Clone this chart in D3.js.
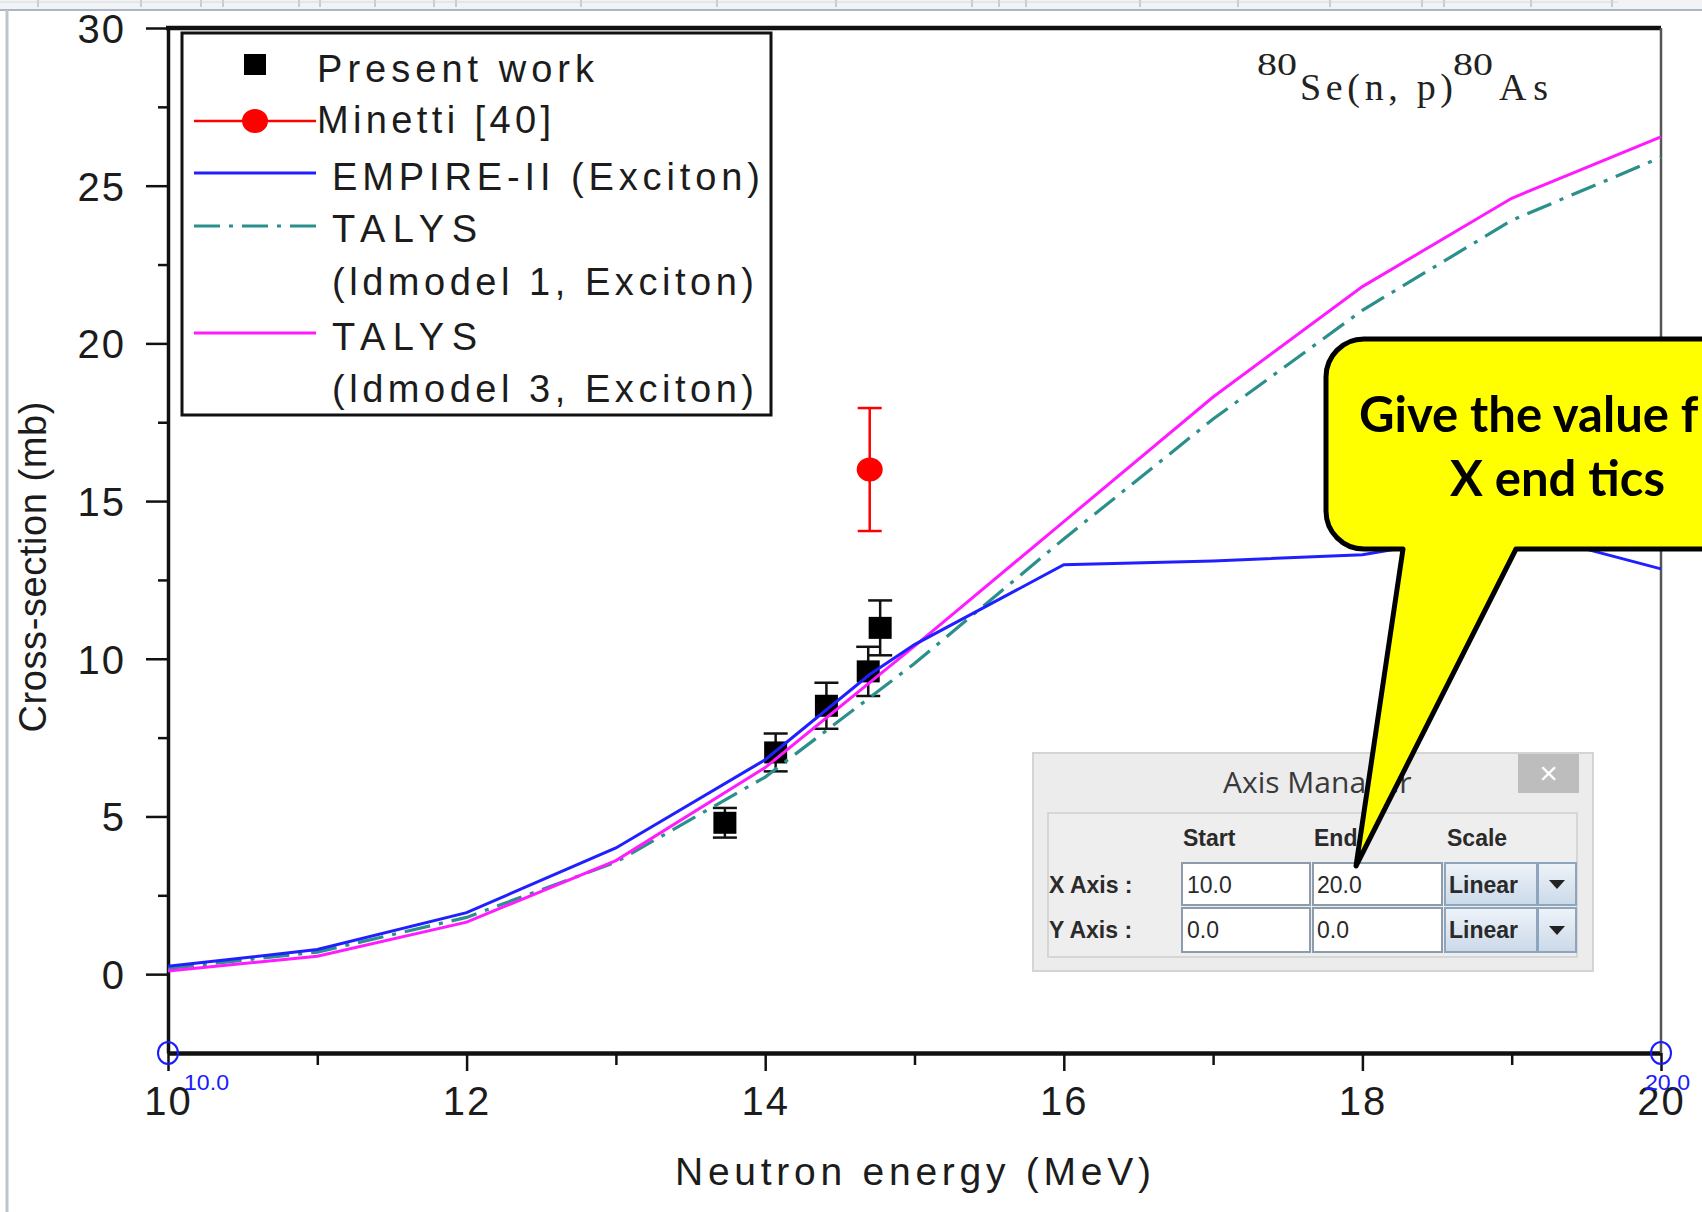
<!DOCTYPE html>
<html><head><meta charset="utf-8">
<script src="https://cdn.jsdelivr.net/npm/d3@7"></script>
<style>
html,body{margin:0;padding:0;background:#fff;}
svg{display:block;}
</style></head>
<body>
<script>
// ---------------- data ----------------
const xMajorTicks = [10, 12, 14, 16, 18, 20];
const xMinorTicks = [11, 13, 15, 17, 19];
const yMajorTicks = [0, 5, 10, 15, 20, 25, 30];
const yMinorTicks = [2.5, 7.5, 12.5, 17.5, 22.5, 27.5];

const talysEnergy = [10, 11, 12, 13, 14, 15, 16, 17, 18, 19, 20];
const talysLd1 = [0.18, 0.7, 1.8, 3.55, 6.25, 9.85, 13.8, 17.6, 21.05, 23.9, 25.9];
const talysLd3 = [0.1, 0.57, 1.65, 3.6, 6.55, 10.4, 14.35, 18.3, 21.8, 24.6, 26.55];

const empireEnergy = [10, 11, 12, 13, 14, 14.7, 15, 16, 17, 18, 19, 20];
const empireXS = [0.25, 0.78, 1.95, 4.0, 6.8, 9.5, 10.45, 12.98, 13.1, 13.3, 14.1, 12.85];

const presentEnergy = [13.73, 14.07, 14.41, 14.69, 14.77];
const presentXS = [4.8, 7.03, 8.51, 9.6, 10.98];
const presentErr = [0.47, 0.6, 0.73, 0.78, 0.87];

const minettiEnergy = [14.7];
const minettiXS = [16.0];
const minettiErr = [1.95];

const legendLabels = ["Present work", "Minetti [40]", "EMPIRE-II (Exciton)", "TALYS", "(ldmodel 1, Exciton)", "TALYS", "(ldmodel 3, Exciton)"];
const xAxisTitle = "Neutron energy (MeV)";
const yAxisTitle = "Cross-section (mb)";
const xEndLabels = ["10.0", "20.0"];
const calloutLines = ["Give the value f", "X end tics"];

// ---------------- setup ----------------
const W = 1702, H = 1212;
const svg = d3.select("body").append("svg").attr("width", W).attr("height", H)
  .style("font-family", "'Liberation Sans', Arial, sans-serif");

const x = d3.scaleLinear().domain([10, 20]).range([168, 1661]);
const y = d3.scaleLinear().domain([-2.5, 30]).range([1053, 28]);

// window chrome
svg.append("rect").attr("x", 0).attr("y", 0).attr("width", W).attr("height", 9).attr("fill", "#f2f3f5");
const seps = [38, 141, 201, 223, 299, 320, 375, 434, 456, 581, 717, 836, 972, 999, 1026, 1140, 1238, 1330, 1422, 1444, 1531, 1612];
svg.append("g").selectAll("line").data(seps).join("line")
  .attr("x1", d => d).attr("x2", d => d).attr("y1", 0).attr("y2", 7)
  .attr("stroke", "#b9bec6").attr("stroke-width", 1.5);
svg.append("line").attr("x1", 0).attr("x2", 1618).attr("y1", 2).attr("y2", 2).attr("stroke", "#d4d8de").attr("stroke-width", 1);
svg.append("line").attr("x1", 0).attr("x2", W).attr("y1", 10).attr("y2", 10).attr("stroke", "#aab6c4").attr("stroke-width", 2);
svg.append("line").attr("x1", 7).attr("x2", 7).attr("y1", 10).attr("y2", H).attr("stroke", "#bfc5cd").attr("stroke-width", 3);

// ---------------- axes ----------------
const gx = svg.append("g").attr("transform", `translate(0,${y(-2.5)})`)
  .call(d3.axisBottom(x).tickValues(xMajorTicks).tickSize(18).tickSizeOuter(0).tickFormat(d3.format("d")));
gx.select(".domain").attr("stroke", "#111").attr("stroke-width", 4.5);
gx.selectAll(".tick line").attr("stroke", "#111").attr("stroke-width", 2.5);
gx.selectAll(".tick text").attr("y", 62).attr("dy", null).attr("fill", "#1c1c1c")
  .style("font-size", "40px").style("font-family", "'Liberation Sans', Arial, sans-serif").style("letter-spacing", "2px");

const gxm = svg.append("g").attr("transform", `translate(0,${y(-2.5)})`)
  .call(d3.axisBottom(x).tickValues(xMinorTicks).tickSize(12).tickFormat(""));
gxm.select(".domain").remove();
gxm.selectAll(".tick line").attr("stroke", "#111").attr("stroke-width", 2.5);

const gy = svg.append("g").attr("transform", `translate(${x(10)},0)`)
  .call(d3.axisLeft(y).tickValues(yMajorTicks).tickSize(22).tickSizeOuter(0).tickFormat(d3.format("d")));
gy.select(".domain").attr("stroke", "#111").attr("stroke-width", 3.5);
gy.selectAll(".tick line").attr("stroke", "#111").attr("stroke-width", 2.5);
gy.selectAll(".tick text").attr("x", -42).attr("dy", "0.36em").attr("fill", "#1c1c1c")
  .style("font-size", "40px").style("font-family", "'Liberation Sans', Arial, sans-serif").style("letter-spacing", "2px");

const gym = svg.append("g").attr("transform", `translate(${x(10)},0)`)
  .call(d3.axisLeft(y).tickValues(yMinorTicks).tickSize(10).tickFormat(""));
gym.select(".domain").remove();
gym.selectAll(".tick line").attr("stroke", "#111").attr("stroke-width", 2.5);

// top & right frame
svg.append("line").attr("x1", x(10) - 2).attr("x2", x(20)).attr("y1", y(30)).attr("y2", y(30))
  .attr("stroke", "#111").attr("stroke-width", 4.5);
svg.append("line").attr("x1", x(20)).attr("x2", x(20)).attr("y1", y(30)).attr("y2", y(-2.5))
  .attr("stroke", "#555").attr("stroke-width", 2.5);

// axis titles
svg.append("text").attr("x", 675).attr("y", 1185).attr("textLength", 476).attr("lengthAdjust", "spacing")
  .attr("fill", "#1c1c1c").style("font-size", "39px").text(xAxisTitle);
svg.append("text").attr("transform", "translate(46,567) rotate(-90)").attr("text-anchor", "middle")
  .attr("textLength", 331).attr("lengthAdjust", "spacing")
  .attr("fill", "#1c1c1c").style("font-size", "38px").text(yAxisTitle);

// ---------------- data marks ----------------
const pw = presentEnergy.map((e, i) => ({ e, v: presentXS[i], err: presentErr[i] }));
const gpw = svg.append("g");
gpw.selectAll("line.v").data(pw).join("line").attr("class", "v")
  .attr("x1", d => x(d.e)).attr("x2", d => x(d.e))
  .attr("y1", d => y(d.v + d.err)).attr("y2", d => y(d.v - d.err))
  .attr("stroke", "#111").attr("stroke-width", 2.5);
gpw.selectAll("line.t").data(pw).join("line").attr("class", "t")
  .attr("x1", d => x(d.e) - 12).attr("x2", d => x(d.e) + 12)
  .attr("y1", d => y(d.v + d.err)).attr("y2", d => y(d.v + d.err))
  .attr("stroke", "#111").attr("stroke-width", 2.5);
gpw.selectAll("line.b").data(pw).join("line").attr("class", "b")
  .attr("x1", d => x(d.e) - 12).attr("x2", d => x(d.e) + 12)
  .attr("y1", d => y(d.v - d.err)).attr("y2", d => y(d.v - d.err))
  .attr("stroke", "#111").attr("stroke-width", 2.5);
gpw.selectAll("rect").data(pw).join("rect")
  .attr("x", d => x(d.e) - 11.5).attr("y", d => y(d.v) - 11)
  .attr("width", 23).attr("height", 22).attr("fill", "#000");

// curves
const lineGen = (xs, ys) => d3.line().x((d, i) => x(xs[i])).y((d, i) => y(ys[i]))(xs);
svg.append("path").attr("d", lineGen(talysEnergy, talysLd1)).attr("fill", "none")
  .attr("stroke", "#2b8f8c").attr("stroke-width", 3.2).attr("stroke-dasharray", "26,9,4,9");
svg.append("path").attr("d", lineGen(talysEnergy, talysLd3)).attr("fill", "none")
  .attr("stroke", "#ff1aff").attr("stroke-width", 3);
svg.append("path").attr("d", lineGen(empireEnergy, empireXS)).attr("fill", "none")
  .attr("stroke", "#2020ff").attr("stroke-width", 3);

// Minetti
const mn = minettiEnergy.map((e, i) => ({ e, v: minettiXS[i], err: minettiErr[i] }));
const gmn = svg.append("g");
gmn.selectAll("line.v").data(mn).join("line").attr("class", "v")
  .attr("x1", d => x(d.e)).attr("x2", d => x(d.e))
  .attr("y1", d => y(d.v + d.err)).attr("y2", d => y(d.v - d.err))
  .attr("stroke", "#ff0000").attr("stroke-width", 2.5);
gmn.selectAll("line.t").data(mn).join("line").attr("class", "t")
  .attr("x1", d => x(d.e) - 12).attr("x2", d => x(d.e) + 12)
  .attr("y1", d => y(d.v + d.err)).attr("y2", d => y(d.v + d.err))
  .attr("stroke", "#ff0000").attr("stroke-width", 2.5);
gmn.selectAll("line.b").data(mn).join("line").attr("class", "b")
  .attr("x1", d => x(d.e) - 12).attr("x2", d => x(d.e) + 12)
  .attr("y1", d => y(d.v - d.err)).attr("y2", d => y(d.v - d.err))
  .attr("stroke", "#ff0000").attr("stroke-width", 2.5);
gmn.selectAll("ellipse").data(mn).join("ellipse")
  .attr("cx", d => x(d.e)).attr("cy", d => y(d.v)).attr("rx", 13).attr("ry", 12).attr("fill", "#ff0000");

// reaction annotation
const ann = svg.append("g").attr("fill", "#222").style("font-family", "'Liberation Serif', 'Times New Roman', serif");
ann.append("text").attr("x", 1257).attr("y", 75).attr("textLength", 40).attr("lengthAdjust", "spacingAndGlyphs").style("font-size", "31px").text("80");
ann.append("text").attr("x", 1300).attr("y", 100).attr("textLength", 153).attr("lengthAdjust", "spacing").style("font-size", "38px").text("Se(n, p)");
ann.append("text").attr("x", 1453).attr("y", 75).attr("textLength", 40).attr("lengthAdjust", "spacingAndGlyphs").style("font-size", "31px").text("80");
ann.append("text").attr("x", 1499).attr("y", 100).attr("textLength", 49).attr("lengthAdjust", "spacing").style("font-size", "38px").text("As");

// ---------------- legend ----------------
const lg = svg.append("g");
lg.append("rect").attr("x", 182).attr("y", 33).attr("width", 589).attr("height", 382)
  .attr("fill", "#fff").attr("stroke", "#111").attr("stroke-width", 3);
lg.append("rect").attr("x", 244).attr("y", 54).attr("width", 22).attr("height", 21).attr("fill", "#000");
lg.append("line").attr("x1", 194).attr("x2", 316).attr("y1", 121).attr("y2", 121).attr("stroke", "#ff0000").attr("stroke-width", 2.5);
lg.append("ellipse").attr("cx", 255).attr("cy", 121).attr("rx", 13).attr("ry", 12).attr("fill", "#ff0000");
lg.append("line").attr("x1", 194).attr("x2", 316).attr("y1", 173).attr("y2", 173).attr("stroke", "#2020ff").attr("stroke-width", 3);
lg.append("line").attr("x1", 194).attr("x2", 316).attr("y1", 226).attr("y2", 226).attr("stroke", "#2b8f8c").attr("stroke-width", 3.2).attr("stroke-dasharray", "26,9,4,9");
lg.append("line").attr("x1", 194).attr("x2", 316).attr("y1", 333).attr("y2", 333).attr("stroke", "#ff1aff").attr("stroke-width", 3);
const legendPos = [
  { x: 317, y: 82, w: 277 }, { x: 317, y: 133, w: 234 }, { x: 332, y: 190, w: 428 },
  { x: 332, y: 242, w: 145 }, { x: 332, y: 295, w: 422 }, { x: 332, y: 350, w: 145 }, { x: 332, y: 402, w: 422 }
];
lg.selectAll("text").data(legendLabels).join("text")
  .attr("x", (d, i) => legendPos[i].x).attr("y", (d, i) => legendPos[i].y)
  .attr("textLength", (d, i) => legendPos[i].w).attr("lengthAdjust", "spacing")
  .attr("fill", "#1c1c1c").style("font-size", "38px").text(d => d);

// blue axis end markers
const ends = [10, 20];
const gm = svg.append("g");
gm.selectAll("ellipse").data(ends).join("ellipse")
  .attr("cx", d => x(d)).attr("cy", y(-2.5)).attr("rx", 10).attr("ry", 11)
  .attr("fill", "none").attr("stroke", "#1a1aff").attr("stroke-width", 2);
gm.selectAll("text").data(ends).join("text")
  .attr("x", (d, i) => i === 0 ? x(d) + 16 : x(d) - 16).attr("y", 1090)
  .attr("textLength", 45).attr("lengthAdjust", "spacingAndGlyphs")
  .attr("fill", "#1a1aff").style("font-size", "22px").text((d, i) => xEndLabels[i]);

// ---------------- Axis Manager dialog ----------------
const dlg = svg.append("g").style("font-family", "'Liberation Sans', Arial, sans-serif");
dlg.append("rect").attr("x", 1033).attr("y", 753).attr("width", 560).attr("height", 218)
  .attr("fill", "#ececec").attr("stroke", "#d4d4d4").attr("stroke-width", 2);
dlg.append("text").attr("x", 1223).attr("y", 793).attr("fill", "#3a3a3a")
  .style("font-family", "'Open Sans', 'Noto Sans', sans-serif").style("font-size", "30px").text("Axis Manager");
dlg.append("rect").attr("x", 1518).attr("y", 754).attr("width", 61).attr("height", 39).attr("fill", "#bdbdbd");
dlg.append("text").attr("x", 1548.5).attr("y", 784).attr("text-anchor", "middle").attr("fill", "#fff")
  .style("font-size", "32px").text("×");
dlg.append("rect").attr("x", 1048).attr("y", 813).attr("width", 529).attr("height", 144)
  .attr("fill", "#eeeeee").attr("stroke", "#d6d6d6").attr("stroke-width", 2);
const hdr = [["Start", 1183], ["End", 1314], ["Scale", 1447]];
dlg.selectAll("text.h").data(hdr).join("text").attr("class", "h")
  .attr("x", d => d[1]).attr("y", 846).attr("fill", "#2a2a2a")
  .style("font-size", "23px").style("font-weight", "bold").text(d => d[0]);
const rows = [
  { label: "X Axis :", y: 863, h: 42, start: "10.0", end: "20.0", scale: "Linear" },
  { label: "Y Axis :", y: 908, h: 44, start: "0.0", end: "0.0", scale: "Linear" }
];
const defs = svg.append("defs");
const grad = defs.append("linearGradient").attr("id", "combo").attr("x1", 0).attr("y1", 0).attr("x2", 0).attr("y2", 1);
grad.append("stop").attr("offset", "0%").attr("stop-color", "#eef3f9");
grad.append("stop").attr("offset", "100%").attr("stop-color", "#cbd9e8");
rows.forEach(r => {
  const g = dlg.append("g");
  g.append("text").attr("x", 1049).attr("y", r.y + 30).attr("fill", "#2a2a2a")
    .style("font-size", "23px").style("font-weight", "bold").text(r.label);
  g.append("rect").attr("x", 1182).attr("y", r.y).attr("width", 128).attr("height", r.h)
    .attr("fill", "#fff").attr("stroke", "#8d9caa").attr("stroke-width", 2);
  g.append("rect").attr("x", 1313).attr("y", r.y).attr("width", 129).attr("height", r.h)
    .attr("fill", "#fff").attr("stroke", "#8d9caa").attr("stroke-width", 2);
  g.append("text").attr("x", 1187).attr("y", r.y + 30).attr("fill", "#2a2a2a").style("font-size", "23px").text(r.start);
  g.append("text").attr("x", 1317).attr("y", r.y + 30).attr("fill", "#2a2a2a").style("font-size", "23px").text(r.end);
  g.append("rect").attr("x", 1445).attr("y", r.y).attr("width", 92).attr("height", r.h)
    .attr("fill", "url(#combo)").attr("stroke", "#8ea5be").attr("stroke-width", 2);
  g.append("rect").attr("x", 1538).attr("y", r.y).attr("width", 38).attr("height", r.h)
    .attr("fill", "url(#combo)").attr("stroke", "#8ea5be").attr("stroke-width", 2);
  g.append("text").attr("x", 1449).attr("y", r.y + 30).attr("fill", "#2a2a2a")
    .style("font-size", "23px").style("font-weight", "bold").text(r.scale);
  const cx = 1557, cy = r.y + r.h / 2;
  g.append("path").attr("d", `M${cx - 8},${cy - 4} L${cx + 8},${cy - 4} L${cx},${cy + 5} Z`).attr("fill", "#222");
});

// ---------------- callout ----------------
const r0 = 38;
const calloutPath = `M${1326 + r0},339 H1790 V549 H1516 L1356,866 L1403,549 H${1326 + r0}
  A${r0},${r0} 0 0 1 1326,${549 - r0} V${339 + r0} A${r0},${r0} 0 0 1 ${1326 + r0},339 Z`;
svg.append("path").attr("d", calloutPath).attr("fill", "#ffff00").attr("stroke", "#000")
  .attr("stroke-width", 5).attr("stroke-linejoin", "round");
svg.append("text").attr("x", 1359).attr("y", 432).attr("fill", "#000")
  .style("font-family", "Lato, 'Open Sans', sans-serif").style("font-weight", "bold").style("font-size", "49px")
  .text(calloutLines[0]);
svg.append("text").attr("x", 1450).attr("y", 496).attr("fill", "#000")
  .style("font-family", "Lato, 'Open Sans', sans-serif").style("font-weight", "bold").style("font-size", "49px")
  .text(calloutLines[1]);
</script>
</body></html>
